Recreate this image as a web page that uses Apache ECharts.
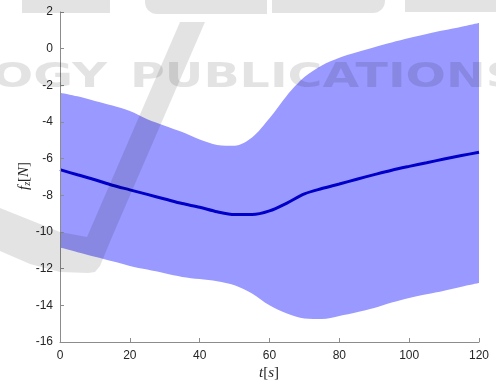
<!DOCTYPE html>
<html><head><meta charset="utf-8">
<script src="https://cdn.jsdelivr.net/npm/echarts@6/dist/echarts.min.js"></script>
<style>html,body{margin:0;padding:0;background:#fff}#c{width:496px;height:385px}</style>
</head><body><div id="c"></div>
<script>
var tValues = [0,5,10,15,20,25,30,35,40,45,50,55,60,65,70,75,80,85,90,95,100,105,110,115,120];
var meanValues = [-6.6,-6.88,-7.15,-7.45,-7.7,-7.95,-8.2,-8.45,-8.65,-8.9,-9.05,-9.05,-8.85,-8.42,-7.92,-7.63,-7.38,-7.12,-6.87,-6.63,-6.42,-6.22,-6.02,-5.83,-5.65];
var upperValues = [-2.4,-2.6,-2.85,-3.1,-3.4,-3.85,-4.2,-4.55,-4.95,-5.25,-5.3,-4.85,-3.8,-2.55,-1.55,-0.92,-0.5,-0.2,0.08,0.34,0.58,0.8,1.0,1.2,1.4];
var lowerValues = [-10.85,-11.1,-11.35,-11.6,-11.85,-12.05,-12.25,-12.45,-12.57,-12.68,-12.9,-13.35,-14.0,-14.45,-14.72,-14.75,-14.58,-14.38,-14.15,-13.85,-13.6,-13.4,-13.2,-12.98,-12.78];
var xTicks = [0,20,40,60,80,100,120];
var yTicks = [-16,-14,-12,-10,-8,-6,-4,-2,0,2];

var upperData = tValues.map(function(t,i){return [t, upperValues[i]];});
var lowerData = tValues.map(function(t,i){return [t, lowerValues[i]];});
var meanData = tValues.map(function(t,i){return [t, meanValues[i]];});

var ctx = document.createElement('canvas').getContext('2d');
var wmFont = 'bold 34px "DejaVu Sans"';
function wmText(str, left, right, cy){
  ctx.font = wmFont;
  var w = ctx.measureText(str).width;
  return {type:'text', x:left, y:cy, scaleX:(right-left)/w, z:100, silent:true,
    style:{text:str, font:wmFont, fill:'rgba(0,0,0,0.11)', align:'left', verticalAlign:'middle'}};
}
var wmFill = 'rgba(0,0,0,0.11)';
var graphics = [
  wmText('OGY', -8, 107, 78),
  wmText('PUBLICATIONS', 130, 520, 78),
  {type:'rect', z:100, silent:true, shape:{x:22,y:-10,width:88,height:23}, style:{fill:wmFill}},
  {type:'rect', z:100, silent:true, shape:{x:145,y:-10,width:122,height:24,r:[0,0,0,12]}, style:{fill:wmFill}},
  {type:'rect', z:100, silent:true, shape:{x:272,y:-10,width:113,height:23,r:[0,0,12,0]}, style:{fill:wmFill}},
  {type:'rect', z:100, silent:true, shape:{x:405,y:-10,width:91,height:22}, style:{fill:wmFill}},
  {type:'polygon', z:100, silent:true, shape:{points:[[180,22],[205,22],[112,237],[87,237]]}, style:{fill:wmFill}},
  {type:'polygon', z:100, silent:true, shape:{points:[[0,208],[30,220],[60,232],[87,237],[112,237],[100,266],[95,272],[88,273],[60,272],[30,264],[0,251]]}, style:{fill:wmFill}},
  {type:'text', x:24, y:176, rotation:Math.PI/2, z:50, silent:true,
    style:{text:'{i|f}{s|z}{n|[}{i|N}{n|]}', align:'center', verticalAlign:'middle', fill:'#262626',
      rich:{i:{fontFamily:'Liberation Serif', fontStyle:'italic', fontSize:15, fill:'#262626'},
            s:{fontFamily:'Liberation Serif', fontStyle:'italic', fontSize:10, padding:[6,0,0,0], fill:'#262626'},
            n:{fontFamily:'Liberation Serif', fontSize:15, fill:'#262626'}}}},
  {type:'text', x:269, y:373, z:50, silent:true,
    style:{text:'{i|t}{n|[}{i|s}{n|]}', align:'center', verticalAlign:'middle', fill:'#262626',
      rich:{i:{fontFamily:'Liberation Serif', fontStyle:'italic', fontSize:15, fill:'#262626'},
            n:{fontFamily:'Liberation Serif', fontSize:15, fill:'#262626'}}}}
];

var chart = echarts.init(document.getElementById('c'), null, {renderer:'canvas'});
chart.setOption({
  animation:false,
  backgroundColor:'#ffffff',
  grid:{left:60, right:17, top:12, bottom:43, containLabel:false},
  xAxis:{type:'value', min:xTicks[0], max:xTicks[xTicks.length-1], interval:20, z:10,
    axisLine:{show:true, onZero:false, lineStyle:{color:'#8c8c8c', width:1}},
    axisTick:{show:true, inside:true, length:4, lineStyle:{color:'#8c8c8c'}},
    axisLabel:{color:'#262626', fontSize:12, fontFamily:'Liberation Sans', margin:8},
    splitLine:{show:false}},
  yAxis:{type:'value', min:yTicks[0], max:yTicks[yTicks.length-1], interval:2, z:10,
    axisLine:{show:true, onZero:false, lineStyle:{color:'#8c8c8c', width:1}},
    axisTick:{show:true, inside:true, length:4, lineStyle:{color:'#8c8c8c'}},
    axisLabel:{color:'#262626', fontSize:12, fontFamily:'Liberation Sans', margin:7},
    splitLine:{show:false}},
  series:[
    {type:'line', data:upperData, smooth:0.3, symbol:'none',
      lineStyle:{opacity:0}, areaStyle:{color:'#9999ff', opacity:1, origin:'start'}, z:1},
    {type:'line', data:lowerData, smooth:0.3, symbol:'none',
      lineStyle:{opacity:0}, areaStyle:{color:'#ffffff', opacity:1, origin:'start'}, z:2},
    {type:'line', data:meanData, smooth:0.3, symbol:'none',
      lineStyle:{color:'#0000c8', width:3}, z:3}
  ],
  graphic:graphics
});
</script></body></html>
